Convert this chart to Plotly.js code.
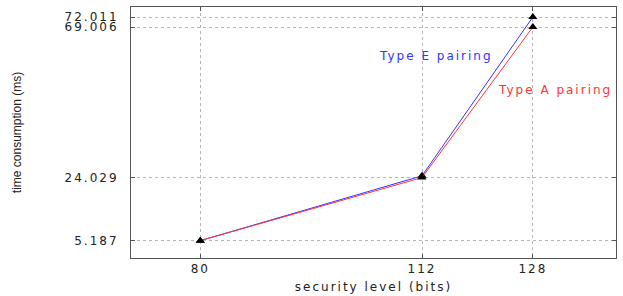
<!DOCTYPE html>
<html>
<head>
<meta charset="utf-8">
<script src="https://cdn.plot.ly/plotly-3.0.1.min.js"></script>
<style>
html,body{margin:0;padding:0;background:#fff;}
#chart{width:623px;height:296px;}
#chart .xtick text, #chart .ytick text, #chart .xtitle, #chart .annotation-text-g text{letter-spacing:2px;}
</style>
</head>
<body>
<div id="chart"></div>
<script>
const securityLevels = [80, 112, 128];
const typeE = [5.187, 24.55, 72.011];
const typeA = [5.187, 24.029, 69.006];
const yTickVals = [5.187, 24.029, 69.006, 72.011];
const yTickText = ["5.187", "24.029", "69.006", "72.011"];
const xTickVals = [80, 112, 128];

const tickFont = {family: "DejaVu Sans", size: 12, color: "#222"};

const traces = [
  {x: securityLevels, y: typeE, type: "scatter", mode: "lines+markers", name: "Type E pairing",
   line: {color: "#3333ff", width: 1}, marker: {symbol: "triangle-up", size: 8, color: "#000"}},
  {x: securityLevels, y: typeA, type: "scatter", mode: "lines+markers", name: "Type A pairing",
   line: {color: "#ff3333", width: 1}, marker: {symbol: "triangle-up", size: 8, color: "#000"}}
];

const layout = {
  width: 623, height: 296,
  margin: {l: 131, r: 7, t: 7, b: 38},
  paper_bgcolor: "#fff", plot_bgcolor: "#fff",
  showlegend: false,
  xaxis: {
    range: [70, 140], tickvals: xTickVals, ticktext: xTickVals.map(String),
    showgrid: true, gridcolor: "#b5b5b5", griddash: "dot", gridwidth: 1,
    showline: true, linecolor: "#555", linewidth: 1, mirror: "ticks",
    ticks: "inside", ticklen: 4, tickcolor: "#555",
    zeroline: false, tickfont: tickFont,
    title: {text: "security level (bits)", font: {family: "DejaVu Sans", size: 12, color: "#222"}, standoff: 7}
  },
  yaxis: {
    range: [0, 75], tickvals: yTickVals, ticktext: yTickText,
    showgrid: true, gridcolor: "#b5b5b5", griddash: "dot", gridwidth: 1,
    showline: true, linecolor: "#555", linewidth: 1, mirror: "ticks",
    ticks: "inside", ticklen: 4, tickcolor: "#555",
    zeroline: false, tickfont: tickFont, ticklabelstandoff: 9,
    title: {text: "time consumption (ms)", font: {family: "Liberation Sans", size: 12, color: "#222"}, standoff: 52}
  },
  annotations: [
    {x: 114.0, y: 60.4, xref: "x", yref: "y", text: "Type E pairing", showarrow: false,
     font: {family: "DejaVu Sans", size: 12, color: "#3333ff"}},
    {x: 131.2, y: 50.2, xref: "x", yref: "y", text: "Type A pairing", showarrow: false,
     font: {family: "DejaVu Sans", size: 12, color: "#ff3333"}}
  ]
};

Plotly.newPlot("chart", traces, layout, {displayModeBar: false, staticPlot: true});
</script>
</body>
</html>
